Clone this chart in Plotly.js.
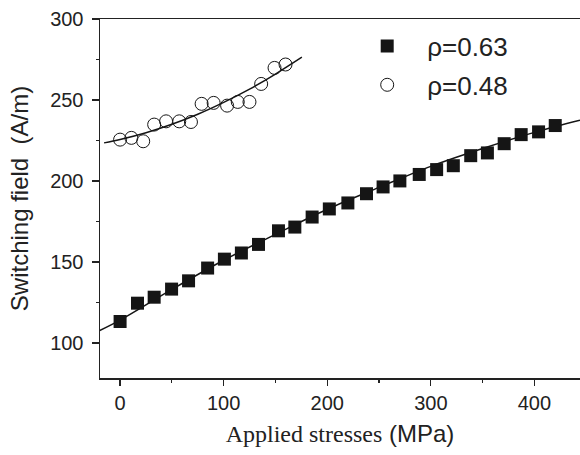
<!DOCTYPE html>
<html>
<head>
<meta charset="utf-8">
<script src="https://cdn.plot.ly/plotly-3.0.1.min.js"></script>
<style>html,body{margin:0;padding:0;background:#fff;}#chart{width:580px;height:455px;}</style>
</head>
<body>
<div id="chart"></div>
<script>
// ρ=0.63 (filled squares)
var stress063 = [0, 16.8, 32.9, 49.7, 66.1, 84.5, 100.7, 117.1, 133.6, 152.9, 168.7, 185.4, 202.0, 219.9, 237.9, 253.9, 270.1, 288.8, 305.6, 321.7, 338.5, 354.6, 370.8, 387.2, 404.0, 420.1];
var field063 = [113.2, 124.5, 128.2, 133.2, 138.3, 146.2, 151.7, 155.5, 160.8, 169.2, 171.5, 177.7, 182.7, 186.4, 192.1, 196.3, 200.0, 204.0, 207.0, 209.4, 215.6, 217.3, 223.0, 228.6, 230.3, 234.2];
// ρ=0.48 (open circles)
var stress048 = [0, 10.9, 22.3, 32.9, 44.4, 57.1, 68.4, 78.7, 90.3, 103.3, 113.6, 124.9, 136.2, 149.1, 159.7];
var field048 = [225.5, 226.6, 224.5, 234.8, 236.8, 236.8, 236.4, 247.6, 248.2, 246.5, 248.8, 248.8, 259.9, 269.8, 271.9];
// fitted curves
var fit063X = [-20, 0, 50, 100, 150, 200, 250, 300, 350, 400, 444];
var fit063Y = [107.5, 114, 133, 151, 167, 182.5, 196, 209, 220, 230, 237.5];
var fit048X = [-15.5, 0, 25, 50, 75, 100, 125, 150, 175.5];
var fit048Y = [223.5, 225.6, 229.8, 235.0, 241.2, 248.5, 256.7, 266.0, 276.4];
// labels
var legendNames = ['\u03c1=0.63', '\u03c1=0.48'];
var xTicks = [0, 100, 200, 300, 400];
var yTicks = [100, 150, 200, 250, 300];
var xTitle = '<span style="font-family:\'Liberation Serif\',\'Times New Roman\',serif">Applied stresses</span> <span style="font-family:\'Liberation Sans\',Arial,sans-serif">(MPa)</span>';
var yTitle = 'Switching field  (A/m)';

var ink = '#151515';
var sans = "'Liberation Sans', Arial, sans-serif";

var traces = [
  {x: fit063X, y: fit063Y, mode: 'lines', line: {color: ink, width: 1.5, shape: 'spline'}, showlegend: false, hoverinfo: 'skip'},
  {x: fit048X, y: fit048Y, mode: 'lines', line: {color: ink, width: 1.5, shape: 'spline'}, showlegend: false, hoverinfo: 'skip'},
  {x: stress063, y: field063, mode: 'markers', name: legendNames[0], legendgroup: 'a',
   marker: {symbol: 'square', size: 13, color: ink, line: {width: 0}}},
  {x: stress048, y: field048, mode: 'markers', name: legendNames[1], legendgroup: 'b',
   marker: {symbol: 'circle-open', size: 13, color: ink, line: {width: 1, color: ink}}}
];

var layout = {
  width: 580, height: 455,
  margin: {l: 100, r: 0, t: 19, b: 77},
  paper_bgcolor: '#fff', plot_bgcolor: '#fff',
  font: {family: sans, color: '#222', size: 20},
  showlegend: true,
  legend: {x: 0.515, y: 0.99, xanchor: 'left', yanchor: 'top', bgcolor: 'rgba(0,0,0,0)',
           font: {family: sans, size: 26, color: '#222'}, traceorder: 'grouped', tracegroupgap: 2, itemwidth: 70},
  xaxis: {
    range: [-19.4, 444], tickvals: xTicks, ticktext: xTicks.map(String),
    showgrid: false, zeroline: false, showline: true, linecolor: '#222', linewidth: 1.5, mirror: true,
    ticks: 'outside', ticklen: 6, tickwidth: 1.3, tickcolor: '#222',
    minor: {dtick: 50, ticks: 'outside', ticklen: 3, tickwidth: 1.2, tickcolor: '#222', showgrid: false},
    tickfont: {family: sans, size: 20, color: '#222'},
    title: {text: xTitle, font: {family: sans, size: 24, color: '#222'}, standoff: 12}
  },
  yaxis: {
    range: [78.3, 300], tickvals: yTicks, ticktext: yTicks.map(String),
    showgrid: false, zeroline: false, showline: true, linecolor: '#222', linewidth: 1.5,
    ticks: 'outside', ticklen: 7, tickwidth: 1.3, tickcolor: '#222',
    minor: {dtick: 25, ticks: 'outside', ticklen: 3, tickwidth: 1.2, tickcolor: '#222', showgrid: false},
    tickfont: {family: sans, size: 20, color: '#222'}, ticklabelstandoff: 4,
    title: {text: yTitle, font: {family: sans, size: 24, color: '#222'}, standoff: 14}
  }
};

Plotly.newPlot('chart', traces, layout, {staticPlot: true, displayModeBar: false});
</script>
</body>
</html>
